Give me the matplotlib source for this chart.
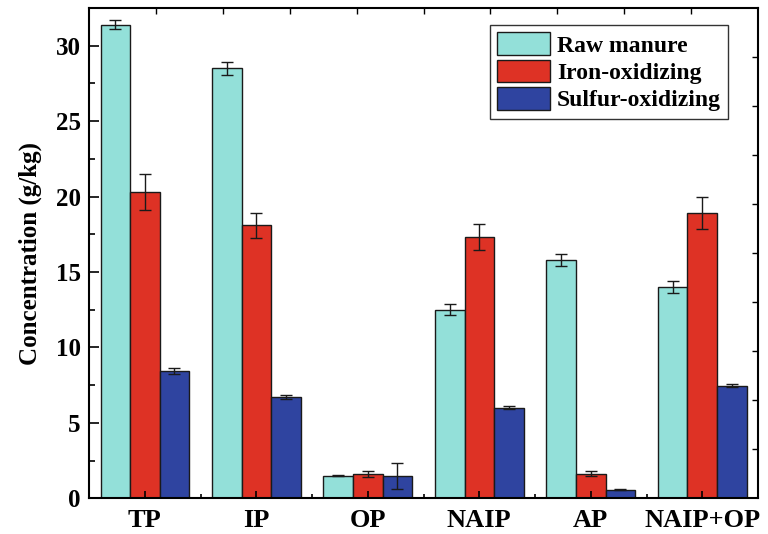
import numpy as np
import matplotlib.pyplot as plt

groups = ["TP", "IP", "OP", "NAIP", "AP", "NAIP+OP"]
series = ["Raw manure", "Iron-oxidizing", "Sulfur-oxidizing"]
raw = [31.4, 28.5, 1.5, 12.5, 15.8, 14.0]
raw_err = [0.3, 0.45, 0.03, 0.35, 0.42, 0.38]
iron = [20.3, 18.1, 1.6, 17.3, 1.63, 18.9]
iron_err = [1.2, 0.82, 0.2, 0.85, 0.15, 1.08]
sulfur = [8.43, 6.72, 1.45, 6.01, 0.57, 7.46]
sulfur_err = [0.2, 0.15, 0.87, 0.1, 0.02, 0.08]
colors = ["#93E0D9", "#DE3225", "#2F44A0"]

plt.rcParams['font.family'] = ['Liberation Serif', 'DejaVu Serif']
plt.rcParams['font.weight'] = 'bold'

fig = plt.figure(figsize=(7.68, 5.34), dpi=100)
ax = fig.add_axes([0.116, 0.067, 0.871, 0.918])

x = np.arange(1, len(groups) + 1)
w = 0.265
vals = [raw, iron, sulfur]
errs = [raw_err, iron_err, sulfur_err]
for i in range(3):
    ax.bar(x + (i - 1) * w, vals[i], w, yerr=errs[i], color=colors[i],
           edgecolor="#1a1a1a", linewidth=1.0, label=series[i],
           error_kw=dict(ecolor="#1a1a1a", elinewidth=1.0, capsize=4, capthick=1.0))

ax.set_xlim(0.5, 6.5)
ax.set_ylim(0, 32.5)
ax.set_xticks(x)
ax.set_xticklabels(groups, fontsize=19, fontweight='bold')
ax.set_xticks(np.arange(1.5, 6.5, 1), minor=True)
ax.set_yticks([0, 5, 10, 15, 20, 25, 30])
ax.set_yticks(np.arange(2.5, 32.5, 5), minor=True)
ax.tick_params(axis='y', labelsize=18, direction='in', length=7, width=1.2, pad=6)
ax.tick_params(axis='y', which='minor', direction='in', length=4, width=1.2)
ax.tick_params(axis='x', direction='in', length=5, width=1.2, pad=8)
ax.tick_params(axis='x', which='minor', direction='in', length=3, width=1.2)
for lbl in ax.get_yticklabels():
    lbl.set_fontweight('bold')
ax.set_ylabel("Concentration (g/kg)", fontsize=18, fontweight='bold', labelpad=10)
for s in ax.spines.values():
    s.set_linewidth(1.5)

# top / right ticks like the original
ax2 = fig.add_axes(ax.get_position(), frameon=False)
ax2.set_xlim(0, 10)
ax2.set_ylim(0, 10)
ax2.set_xticks(range(1, 10))
ax2.set_yticks(range(1, 10))
ax2.tick_params(left=False, bottom=False, labelleft=False, labelbottom=False,
                top=True, right=True, direction='in', length=4, width=1.0)

leg = ax.legend(loc='upper right', bbox_to_anchor=(0.955, 0.965), fontsize=17,
                frameon=True, fancybox=False, edgecolor='black',
                handlelength=2.25, handleheight=1.1, handletextpad=0.3,
                labelspacing=0.13, borderpad=0.3, borderaxespad=0)
leg.get_frame().set_linewidth(1.0)
for t in leg.get_texts():
    t.set_fontweight('bold')

fig.savefig("out.png", dpi=100)
